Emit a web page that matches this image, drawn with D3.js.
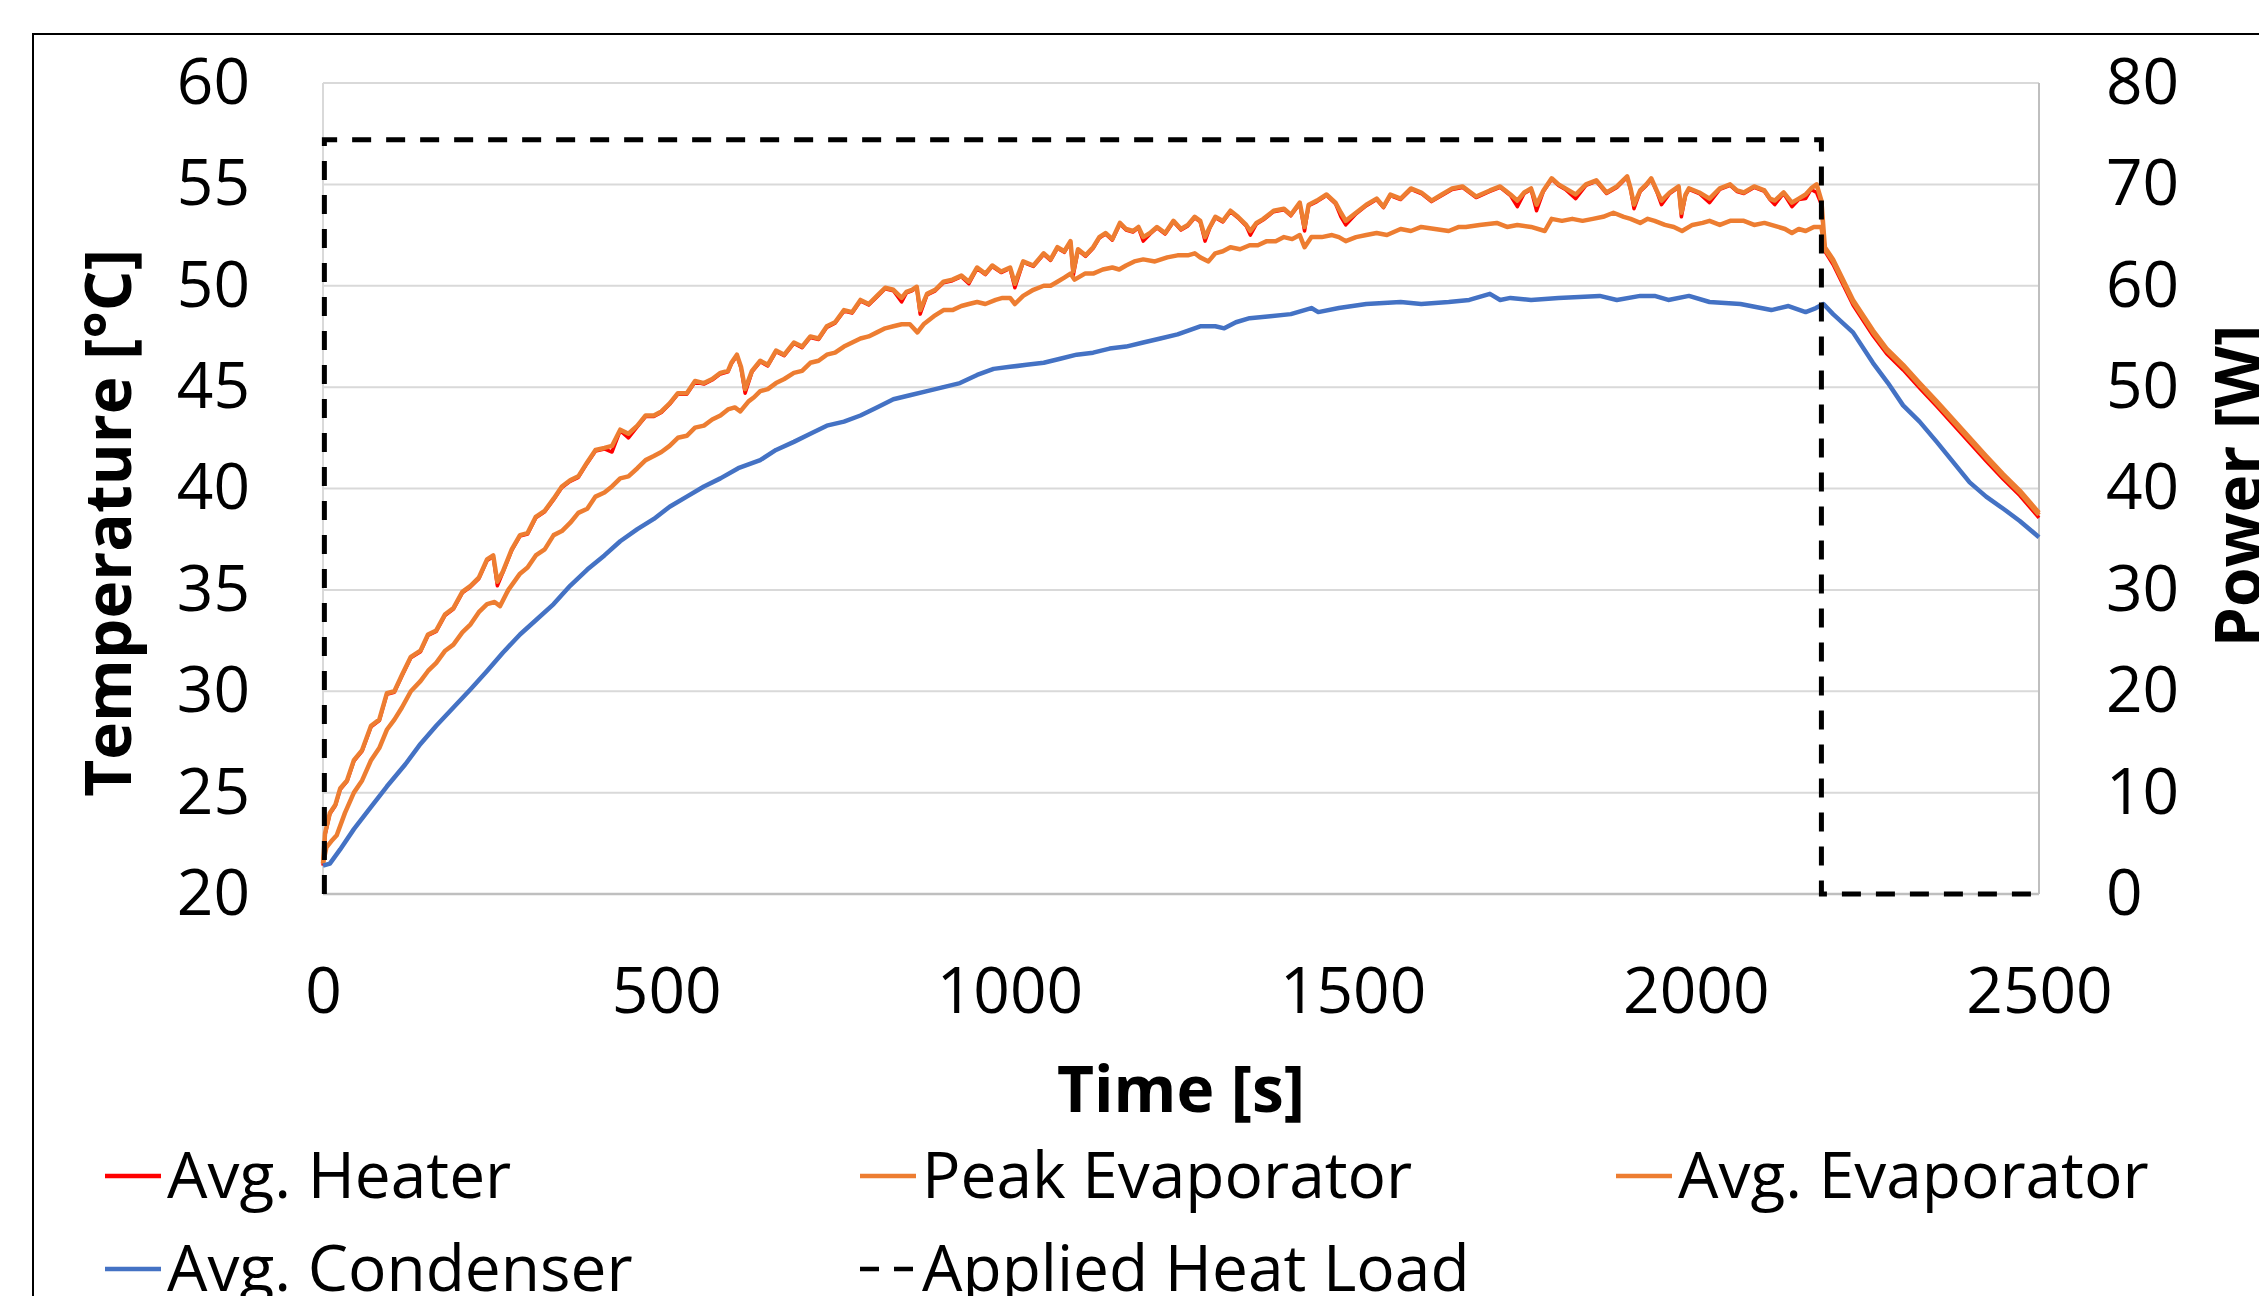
<!DOCTYPE html>
<html>
<head>
<meta charset="utf-8">
<script src="https://cdn.jsdelivr.net/npm/d3@7"></script>
<style>
  body { margin: 0; background: #fff; }
  svg { display: block; font-family: "Open Sans", sans-serif; }
</style>
</head>
<body>
<svg></svg>
<script>
// series, [time s, temperature °C]
let avgHeater = [[0,21.4],[3,22.9],[10,23.95],[18,24.35],[25,25.15],[35,25.55],[45,26.55],[57,27.05],[70,28.25],[82,28.55],[93,29.85],[104,29.95],[115,30.75],[128,31.65],[142,31.95],[153,32.75],[165,32.95],[178,33.75],[190,34.05],[203,34.85],[215,35.15],[227,35.55],[239,36.45],[248,36.65],[254,35.2],[262,35.85],[275,36.95],[287,37.65],[298,37.75],[310,38.55],[323,38.85],[336,39.45],[348,40.05],[360,40.35],[372,40.55],[385,41.25],[397,41.85],[410,41.95],[421,41.8],[433,42.85],[445,42.5],[458,43.05],[470,43.55],[482,43.55],[493,43.75],[505,44.15],[517,44.65],[530,44.65],[542,45.25],[555,45.15],[567,45.35],[579,45.65],[590,45.75],[595,46.15],[603,46.55],[609,45.95],[615,44.7],[625,45.75],[637,46.25],[648,46.05],[660,46.75],[672,46.55],[686,47.15],[698,46.95],[710,47.45],[722,47.35],[734,47.95],[746,48.15],[759,48.75],[771,48.65],[783,49.25],[795,49.05],[807,49.45],[819,49.85],[831,49.75],[843,49.2],[850,49.65],[858,49.75],[865,49.9],[870,48.6],[880,49.55],[892,49.75],[904,50.15],[917,50.25],[930,50.45],[941,50.1],[953,50.85],[965,50.55],[975,50.95],[988,50.65],[1001,50.85],[1008,49.9],[1020,51.15],[1035,50.95],[1050,51.55],[1060,51.25],[1070,51.85],[1080,51.65],[1089,52.15],[1093,50.5],[1100,51.75],[1111,51.45],[1122,51.85],[1131,52.35],[1140,52.55],[1150,52.25],[1161,53.05],[1170,52.75],[1180,52.65],[1188,52.85],[1195,52.2],[1205,52.55],[1215,52.85],[1227,52.55],[1239,53.15],[1250,52.75],[1260,52.95],[1270,53.35],[1278,53.15],[1285,52.2],[1292,52.85],[1300,53.35],[1311,53.15],[1322,53.65],[1333,53.35],[1345,52.95],[1351,52.5],[1360,53.05],[1370,53.25],[1385,53.65],[1400,53.75],[1410,53.45],[1423,54.05],[1430,52.7],[1436,53.95],[1448,54.15],[1462,54.45],[1475,54.05],[1483,53.4],[1490,53.0],[1505,53.55],[1520,53.95],[1535,54.25],[1545,53.85],[1555,54.45],[1570,54.25],[1585,54.75],[1600,54.55],[1615,54.15],[1630,54.45],[1645,54.75],[1660,54.85],[1680,54.35],[1700,54.65],[1715,54.85],[1730,54.45],[1740,53.9],[1750,54.55],[1760,54.75],[1768,53.7],[1778,54.65],[1790,55.25],[1800,54.95],[1810,54.75],[1825,54.3],[1840,54.95],[1855,55.15],[1870,54.55],[1885,54.85],[1900,55.35],[1905,54.75],[1910,53.8],[1919,54.65],[1928,54.95],[1935,55.25],[1943,54.65],[1950,54.0],[1962,54.55],[1975,54.85],[1979,53.4],[1985,54.45],[1990,54.75],[2005,54.55],[2020,54.1],[2035,54.75],[2050,54.95],[2060,54.65],[2070,54.55],[2085,54.85],[2100,54.65],[2108,54.25],[2115,54.0],[2128,54.55],[2140,53.9],[2150,54.25],[2160,54.3],[2168,54.75],[2176,54.6],[2183,54.0],[2188,51.7],[2200,51.05],[2229,49.05],[2258,47.55],[2278,46.65],[2302,45.85],[2326,44.95],[2351,44.05],[2375,43.15],[2399,42.25],[2423,41.35],[2448,40.45],[2472,39.65],[2500,38.55]]

let peakEvap = [[0,21.5],[3,23.0],[10,24.0],[18,24.4],[25,25.2],[35,25.6],[45,26.6],[57,27.1],[70,28.3],[82,28.6],[93,29.9],[104,30.0],[115,30.8],[128,31.7],[142,32.0],[153,32.8],[165,33.0],[178,33.8],[190,34.1],[203,34.9],[215,35.2],[227,35.6],[239,36.5],[248,36.7],[254,35.4],[262,35.9],[275,37.0],[287,37.7],[298,37.8],[310,38.6],[323,38.9],[336,39.5],[348,40.1],[360,40.4],[372,40.6],[385,41.3],[397,41.9],[410,42.0],[421,42.1],[433,42.9],[445,42.7],[458,43.1],[470,43.6],[482,43.6],[493,43.8],[505,44.2],[517,44.7],[530,44.7],[542,45.3],[555,45.2],[567,45.4],[579,45.7],[590,45.8],[595,46.2],[603,46.6],[609,46.0],[615,44.9],[625,45.8],[637,46.3],[648,46.1],[660,46.8],[672,46.6],[686,47.2],[698,47.0],[710,47.5],[722,47.4],[734,48.0],[746,48.2],[759,48.8],[771,48.7],[783,49.3],[795,49.1],[807,49.5],[819,49.9],[831,49.8],[843,49.4],[850,49.7],[858,49.8],[865,49.95],[870,48.8],[880,49.6],[892,49.8],[904,50.2],[917,50.3],[930,50.5],[941,50.2],[953,50.9],[965,50.6],[975,51.0],[988,50.7],[1001,50.9],[1008,50.1],[1020,51.2],[1035,51.0],[1050,51.6],[1060,51.3],[1070,51.9],[1080,51.7],[1089,52.2],[1093,50.7],[1100,51.8],[1111,51.5],[1122,51.9],[1131,52.4],[1140,52.6],[1150,52.3],[1161,53.1],[1170,52.8],[1180,52.7],[1188,52.9],[1195,52.4],[1205,52.6],[1215,52.9],[1227,52.6],[1239,53.2],[1250,52.8],[1260,53.0],[1270,53.4],[1278,53.2],[1285,52.4],[1292,52.9],[1300,53.4],[1311,53.2],[1322,53.7],[1333,53.4],[1345,53.0],[1351,52.7],[1360,53.1],[1370,53.3],[1385,53.7],[1400,53.8],[1410,53.5],[1423,54.1],[1430,52.9],[1436,54.0],[1448,54.2],[1462,54.5],[1475,54.1],[1483,53.6],[1490,53.2],[1505,53.6],[1520,54.0],[1535,54.3],[1545,53.9],[1555,54.5],[1570,54.3],[1585,54.8],[1600,54.6],[1615,54.2],[1630,54.5],[1645,54.8],[1660,54.9],[1680,54.4],[1700,54.7],[1715,54.9],[1730,54.5],[1740,54.2],[1750,54.6],[1760,54.8],[1768,54.0],[1778,54.7],[1790,55.3],[1800,55.0],[1810,54.8],[1825,54.5],[1840,55.0],[1855,55.2],[1870,54.6],[1885,54.9],[1900,55.4],[1905,54.8],[1910,54.0],[1919,54.7],[1928,55.0],[1935,55.3],[1943,54.7],[1950,54.2],[1962,54.6],[1975,54.9],[1979,53.6],[1985,54.5],[1990,54.8],[2005,54.6],[2020,54.3],[2035,54.8],[2050,55.0],[2060,54.7],[2070,54.6],[2085,54.9],[2100,54.7],[2108,54.3],[2115,54.2],[2128,54.6],[2140,54.1],[2150,54.3],[2160,54.5],[2168,54.8],[2176,55.0],[2183,54.2],[2188,51.9],[2200,51.3],[2229,49.3],[2258,47.8],[2278,46.9],[2302,46.1],[2326,45.2],[2351,44.3],[2375,43.4],[2399,42.5],[2423,41.6],[2448,40.7],[2472,39.9],[2500,38.8]]

let avgEvap = [[0,21.5],[5,22.3],[12,22.6],[20,22.9],[32,24.0],[45,25.0],[57,25.6],[70,26.6],[82,27.2],[93,28.1],[104,28.6],[115,29.2],[128,30.0],[142,30.5],[153,31.0],[165,31.4],[178,32.0],[190,32.3],[203,32.9],[215,33.3],[227,33.9],[239,34.3],[250,34.4],[258,34.2],[270,35.0],[287,35.8],[298,36.1],[310,36.7],[323,37.0],[336,37.7],[348,37.9],[360,38.3],[372,38.8],[385,39.0],[397,39.6],[410,39.8],[421,40.1],[433,40.5],[445,40.6],[458,41.0],[470,41.4],[482,41.6],[493,41.8],[505,42.1],[517,42.5],[530,42.6],[542,43.0],[555,43.1],[567,43.4],[579,43.6],[590,43.9],[600,44.0],[608,43.8],[620,44.3],[628,44.5],[637,44.8],[648,44.9],[660,45.2],[672,45.4],[686,45.7],[698,45.8],[710,46.2],[722,46.3],[734,46.6],[746,46.7],[759,47.0],[771,47.2],[783,47.4],[795,47.5],[807,47.7],[819,47.9],[831,48.0],[843,48.1],[855,48.1],[866,47.7],[875,48.1],[890,48.5],[904,48.8],[917,48.8],[930,49.0],[941,49.1],[953,49.2],[965,49.1],[980,49.3],[990,49.4],[1001,49.4],[1008,49.1],[1020,49.5],[1035,49.8],[1050,50.0],[1060,50.0],[1070,50.2],[1080,50.4],[1089,50.6],[1095,50.3],[1110,50.6],[1122,50.6],[1136,50.8],[1150,50.9],[1160,50.8],[1170,51.0],[1182,51.2],[1195,51.3],[1212,51.2],[1230,51.4],[1245,51.5],[1260,51.5],[1270,51.6],[1278,51.4],[1290,51.2],[1300,51.6],[1311,51.7],[1322,51.9],[1336,51.8],[1350,52.0],[1362,52.0],[1375,52.2],[1388,52.2],[1400,52.4],[1412,52.3],[1423,52.5],[1430,51.9],[1440,52.4],[1455,52.4],[1470,52.5],[1480,52.4],[1490,52.2],[1505,52.4],[1520,52.5],[1535,52.6],[1550,52.5],[1570,52.8],[1585,52.7],[1600,52.9],[1620,52.8],[1640,52.7],[1655,52.9],[1665,52.9],[1685,53.0],[1710,53.1],[1725,52.9],[1740,53.0],[1760,52.9],[1780,52.7],[1790,53.3],[1805,53.2],[1820,53.3],[1835,53.2],[1850,53.3],[1865,53.4],[1880,53.6],[1895,53.4],[1905,53.3],[1919,53.1],[1930,53.3],[1940,53.2],[1955,53.0],[1968,52.9],[1980,52.7],[1995,53.0],[2010,53.1],[2020,53.2],[2035,53.0],[2050,53.2],[2070,53.2],[2085,53.0],[2100,53.1],[2120,52.9],[2130,52.8],[2140,52.6],[2150,52.8],[2160,52.7],[2172,52.9],[2183,52.9],[2188,51.8],[2200,51.2],[2229,49.2],[2258,47.7],[2278,46.8],[2302,46.0],[2326,45.1],[2351,44.2],[2375,43.3],[2399,42.4],[2423,41.5],[2448,40.6],[2472,39.8],[2500,38.7]]

let avgCondenser = [[0,21.4],[10,21.5],[25,22.2],[45,23.2],[70,24.3],[93,25.3],[120,26.4],[142,27.4],[165,28.3],[190,29.2],[215,30.1],[239,31.0],[262,31.9],[287,32.8],[310,33.5],[336,34.3],[360,35.2],[385,36.0],[410,36.7],[433,37.4],[458,38.0],[482,38.5],[505,39.1],[530,39.6],[555,40.1],[579,40.5],[605,41.0],[637,41.4],[660,41.9],[686,42.3],[710,42.7],[734,43.1],[759,43.3],[783,43.6],[807,44.0],[831,44.4],[855,44.6],[880,44.8],[904,45.0],[928,45.2],[953,45.6],[977,45.9],[1001,46.0],[1025,46.1],[1050,46.2],[1074,46.4],[1098,46.6],[1122,46.7],[1146,46.9],[1170,47.0],[1195,47.2],[1220,47.4],[1245,47.6],[1278,48.0],[1300,48.0],[1313,47.9],[1330,48.2],[1350,48.4],[1380,48.5],[1410,48.6],[1440,48.9],[1450,48.7],[1480,48.9],[1520,49.1],[1570,49.2],[1600,49.1],[1640,49.2],[1670,49.3],[1700,49.6],[1715,49.3],[1730,49.4],[1760,49.3],[1800,49.4],[1860,49.5],[1885,49.3],[1919,49.5],[1940,49.5],[1960,49.3],[1990,49.5],[2020,49.2],[2065,49.1],[2110,48.8],[2135,49.0],[2160,48.7],[2175,48.9],[2186,49.1],[2200,48.6],[2229,47.7],[2258,46.2],[2280,45.2],[2302,44.1],[2326,43.3],[2351,42.3],[2375,41.3],[2399,40.3],[2423,39.6],[2448,39.0],[2472,38.4],[2500,37.6]]

// [time s, power W]
let heatLoad = [[2,0],[2,74.4],[2183,74.4],[2183,0],[2500,0]]

let tempTicks = [20, 25, 30, 35, 40, 45, 50, 55, 60]
let powerTicks = [0, 10, 20, 30, 40, 50, 60, 70, 80]
let timeTicks = [0, 500, 1000, 1500, 2000, 2500]

let legendNames = ["Avg. Heater", "Peak Evaporator", "Avg. Evaporator", "Avg. Condenser", "Applied Heat Load"]
let seriesColors = ["#FF0000", "#ED7D31", "#ED7D31", "#4472C4", "#000000"]

let width = 2259
let height = 1296
let plot = { left: 323, right: 2039, top: 83, bottom: 894 }
let fontSize = 64

let svg = d3.select("svg").attr("width", width).attr("height", height)

let xScale = d3.scaleLinear().domain([0, 2500]).range([plot.left, plot.right])
let yScale = d3.scaleLinear().domain([20, 60]).range([plot.bottom, plot.top])
let pScale = d3.scaleLinear().domain([0, 80]).range([plot.bottom, plot.top])

let drawFrame = () => {
  svg.append("rect").attr("width", width).attr("height", height).attr("fill", "#fff")
  // chart border, cut off at right and bottom
  svg.append("rect")
     .attr("x", 33).attr("y", 34)
     .attr("width", width + 20).attr("height", height + 20)
     .attr("fill", "none").attr("stroke", "#000").attr("stroke-width", 2)
}

let drawAxes = () => {
  svg.append("g")
     .selectAll("line")
     .data(tempTicks.slice(1))
     .enter()
     .append("line")
     .attr("x1", plot.left).attr("x2", plot.right)
     .attr("y1", d => yScale(d)).attr("y2", d => yScale(d))
     .attr("stroke", "#D9D9D9").attr("stroke-width", 2)

  // side lines of the plot area
  svg.append("line")
     .attr("x1", plot.left).attr("x2", plot.left)
     .attr("y1", plot.top).attr("y2", plot.bottom)
     .attr("stroke", "#D9D9D9").attr("stroke-width", 2)
  svg.append("line")
     .attr("x1", plot.right).attr("x2", plot.right)
     .attr("y1", plot.top).attr("y2", plot.bottom)
     .attr("stroke", "#BFBFBF").attr("stroke-width", 2)
  svg.append("line")
     .attr("x1", plot.left).attr("x2", plot.right)
     .attr("y1", plot.bottom).attr("y2", plot.bottom)
     .attr("stroke", "#BFBFBF").attr("stroke-width", 2.5)

  let yAxis = d3.axisLeft(yScale).tickValues(tempTicks).tickSize(0).tickPadding(73)
  svg.append("g")
     .attr("transform", "translate(" + plot.left + ",0)")
     .call(yAxis)
  let pAxis = d3.axisRight(pScale).tickValues(powerTicks).tickSize(0).tickPadding(67)
  svg.append("g")
     .attr("transform", "translate(" + plot.right + ",0)")
     .call(pAxis)
  let xAxis = d3.axisBottom(xScale).tickValues(timeTicks).tickSize(0).tickPadding(74)
                .tickFormat(d3.format("d"))
  svg.append("g")
     .attr("transform", "translate(0," + plot.bottom + ")")
     .call(xAxis)

  svg.selectAll(".domain").remove()
  svg.selectAll(".tick text")
     .attr("font-family", "Open Sans, sans-serif")
     .attr("font-size", fontSize)
     .attr("fill", "#000")

  svg.append("text")
     .attr("x", (plot.left + plot.right) / 2)
     .attr("y", 1112)
     .attr("text-anchor", "middle")
     .attr("font-size", fontSize).attr("font-weight", "bold")
     .text("Time [s]")
  svg.append("text")
     .attr("transform", "translate(131,523) rotate(-90)")
     .attr("text-anchor", "middle")
     .attr("font-size", fontSize).attr("font-weight", "bold")
     .text("Temperature [°C]")
  // right title is cut by the picture edge, as in the original
  svg.append("text")
     .attr("transform", "translate(2261,486) rotate(-90)")
     .attr("text-anchor", "middle")
     .attr("font-size", fontSize).attr("font-weight", "bold")
     .text("Power [W]")
}

let drawLines = () => {
  let tempLine = d3.line().x(d => xScale(d[0])).y(d => yScale(d[1]))
  let powerLine = d3.line().x(d => xScale(d[0])).y(d => pScale(d[1]))

  let series = [avgHeater, peakEvap, avgEvap, avgCondenser]
  series.forEach((s, i) => {
    svg.append("path")
       .attr("d", tempLine(s))
       .attr("fill", "none")
       .attr("stroke", seriesColors[i])
       .attr("stroke-width", i == 0 ? 3.5 : 4.5)
       .attr("stroke-linejoin", "round")
  })

  svg.append("path")
     .attr("d", powerLine(heatLoad))
     .attr("fill", "none")
     .attr("stroke", "#000")
     .attr("stroke-width", 5)
     .attr("stroke-dasharray", "19,15")
}

let drawLegend = () => {
  let cols = [105, 860, 1616]
  let rows = [1176, 1269]
  let legend = svg.append("g")
  legendNames.forEach((name, i) => {
    let lx = cols[i % 3]
    let ly = rows[Math.floor(i / 3)]
    legend.append("line")
          .attr("x1", lx).attr("x2", lx + 56)
          .attr("y1", ly).attr("y2", ly)
          .attr("stroke", seriesColors[i])
          .attr("stroke-width", 4.5)
          .attr("stroke-dasharray", i == 4 ? "19,15" : null)
    legend.append("text")
          .attr("x", lx + 62)
          .attr("y", ly + 22)
          .attr("font-size", fontSize)
          .text(name)
  })
}

drawFrame()
drawAxes()
drawLines()
drawLegend()
</script>
</body>
</html>
